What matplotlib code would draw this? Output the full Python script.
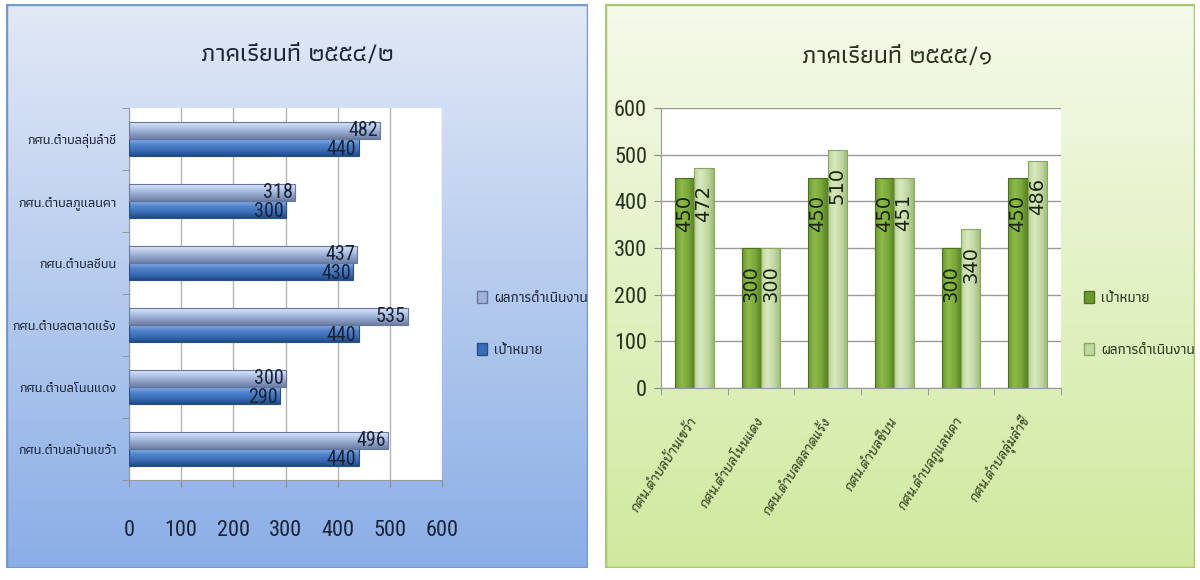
import numpy as np
import matplotlib
matplotlib.use("Agg")
import matplotlib.pyplot as plt
from matplotlib import font_manager
from matplotlib.colors import LinearSegmentedColormap
from matplotlib.patches import Rectangle, Patch
from matplotlib.transforms import ScaledTranslation

# ---- data ----
centres = ["กศน.ตำบลบ้านเขว้า", "กศน.ตำบลโนนแดง", "กศน.ตำบลตลาดแร้ง",
           "กศน.ตำบลชีบน", "กศน.ตำบลภูแลนคา", "กศน.ตำบลลุ่มลำชี"]
target_label = "เป้าหมาย"
result_label = "ผลการดำเนินงาน"

term1_title = "ภาคเรียนที่ ๒๕๕๔/๒"
term1_target = [440, 290, 440, 430, 300, 440]
term1_result = [496, 300, 535, 437, 318, 482]

term2_title = "ภาคเรียนที่ ๒๕๕๕/๑"
term2_target = [450, 300, 450, 450, 300, 450]
term2_result = [472, 300, 510, 451, 340, 486]

value_ticks = [0, 100, 200, 300, 400, 500, 600]

FONT = ["Athiti", "DejaVu Sans"]
plt.rcParams["font.family"] = FONT
plt.rcParams["font.weight"] = 500
TXT1 = "#1a2436"
TXT2 = "#27321c"


def narrow_font():
    names = {f.name for f in font_manager.fontManager.ttflist}
    for n in ["Liberation Sans Narrow", "Roboto Condensed", "Open Sans Condensed",
              "Arial Narrow", "DejaVu Sans Condensed"]:
        if n in names:
            return dict(family=[n, "DejaVu Sans"], weight="normal")
    for f in font_manager.fontManager.ttflist:
        if f.name == "DejaVu Sans" and f.stretch in ("condensed", "semi-condensed"):
            return dict(family=["DejaVu Sans"], stretch="condensed", weight="normal")
    return dict(family=FONT)


NUM = narrow_font()


def panel_background(fig, rect, top, bottom, edge):
    bg = fig.add_axes(rect, zorder=0)
    cmap = LinearSegmentedColormap.from_list("bg", [bottom, top])
    grad = np.linspace(0, 1, 256).reshape(-1, 1)
    bg.imshow(grad, aspect="auto", cmap=cmap, origin="lower", extent=[0, 1, 0, 1])
    bg.add_patch(Rectangle((0, 0), 1, 1, fill=False, edgecolor=edge, lw=2.5,
                           transform=bg.transAxes))
    bg.set_axis_off()


def shade_bars(ax, bars, colours, horizontal):
    # glossy look: a gradient image clipped to each bar
    cmap = LinearSegmentedColormap.from_list("bar", colours)
    grad = np.linspace(0, 1, 64)
    img = grad.reshape(-1, 1) if horizontal else grad.reshape(1, -1)
    for b in bars:
        x0, y0 = b.get_x(), b.get_y()
        im = ax.imshow(img, cmap=cmap, aspect="auto", origin="lower",
                       extent=[x0, x0 + b.get_width(), y0, y0 + b.get_height()],
                       zorder=3, interpolation="bilinear")
        im.set_clip_path(b)


fig = plt.figure(figsize=(12, 5.8), dpi=100)

panel_background(fig, [6 / 1200, 12 / 580, 582 / 1200, 564 / 580],
                 "#e2e9f6", "#8aaee6", "#7899cc")
panel_background(fig, [605 / 1200, 12 / 580, 590 / 1200, 564 / 580],
                 "#f5faea", "#d0e99e", "#a8c873")

# ---- left: horizontal bars ----
ax1 = fig.add_axes([129 / 1200, 100 / 580, 313 / 1200, 372 / 580], zorder=2)
y = np.arange(len(centres))
h = 0.27
b_t = ax1.barh(y - h / 2, term1_target, height=h, color="none",
               edgecolor="#284f88", lw=0.8, zorder=4)
b_r = ax1.barh(y + h / 2, term1_result, height=h, color="none",
               edgecolor="#66769c", lw=0.8, zorder=4)
shade_bars(ax1, b_t, ["#1f4a86", "#3a6cb6", "#4f82c8", "#86aee6"], True)
shade_bars(ax1, b_r, ["#6e7ea4", "#8fa0c6", "#b3c5e8", "#dce6f7"], True)
for yy, v in zip(y, term1_target):
    ax1.text(v - 4, yy - h / 2 - 0.03, str(v), ha="right", va="center",
             fontsize=14.5, color=TXT1, zorder=5, **NUM)
for yy, v in zip(y, term1_result):
    ax1.text(v - 4, yy + h / 2 + 0.01, str(v), ha="right", va="center",
             fontsize=14.5, color=TXT1, zorder=5, **NUM)
ax1.set_xlim(0, 600)
ax1.set_ylim(-0.5, len(centres) - 0.5)
ax1.set_xticks(value_ticks)
ax1.set_xticklabels([str(t) for t in value_ticks], fontsize=16, color=TXT1, **NUM)
ax1.set_yticks(y)
ax1.set_yticklabels(centres, fontsize=9.8, color=TXT1)
ax1.set_yticks(np.arange(-0.5, len(centres), 1), minor=True)
ax1.tick_params(axis="y", which="major", length=0, pad=9)
ax1.tick_params(axis="y", which="minor", length=5, color="#8c8c8c")
ax1.tick_params(axis="x", length=5, color="#8c8c8c", pad=24)
ax1.grid(axis="x", color="#b4b4b4", lw=1, zorder=0)
ax1.set_facecolor("white")
for s in ["top", "right"]:
    ax1.spines[s].set_visible(False)
ax1.spines["left"].set_color("#9a9a9a")
ax1.spines["bottom"].set_color("#9a9a9a")
fig.text(297 / 1200, 1 - 55 / 580, term1_title, ha="center", va="center",
         fontsize=18, color=TXT1, zorder=3)
ax1.legend([Patch(facecolor="#9fb2d8", edgecolor="#66769c"),
            Patch(facecolor="#3a6cb6", edgecolor="#284f88")],
           [result_label, target_label], loc="center left",
           bbox_to_anchor=(477 / 1200, 1 - 324 / 580),
           bbox_transform=fig.transFigure, frameon=False, fontsize=10.5,
           borderpad=0, borderaxespad=0,
           handlelength=0.7, handleheight=0.9, handletextpad=0.45,
           labelspacing=2.6, labelcolor=TXT1)

# ---- right: vertical bars ----
ax2 = fig.add_axes([661 / 1200, 192 / 580, 400 / 1200, 280 / 580], zorder=2)
x = np.arange(len(centres))
w = 0.29
c_t = ax2.bar(x - w / 2, term2_target, width=w, color="none",
              edgecolor="#4d7020", lw=0.8, zorder=4)
c_r = ax2.bar(x + w / 2, term2_result, width=w, color="none",
              edgecolor="#8aa762", lw=0.8, zorder=4)
shade_bars(ax2, c_t, ["#6b9a2e", "#8dbc48", "#7aa83a", "#557f22"], False)
shade_bars(ax2, c_r, ["#bcd59a", "#d8e9c0", "#c2d8a2", "#9db878"], False)
for xx, v in zip(x, term2_target):
    ax2.annotate(str(v), (xx - w / 2, v), xytext=(0, -12),
                 textcoords="offset points", ha="center", va="top", rotation=90,
                 fontsize=14, color="#1a2410", family="DejaVu Sans",
                 weight="normal", zorder=5)
for xx, v in zip(x, term2_result):
    ax2.annotate(str(v), (xx + w / 2, v), xytext=(0, -12),
                 textcoords="offset points", ha="center", va="top", rotation=90,
                 fontsize=14, color="#1a2410", family="DejaVu Sans",
                 weight="normal", zorder=5)
ax2.set_ylim(0, 600)
ax2.set_xlim(-0.5, len(centres) - 0.5)
ax2.set_yticks(value_ticks)
ax2.set_yticklabels([str(t) for t in value_ticks], fontsize=16, color=TXT2, **NUM)
ax2.set_xticks(x)
ax2.set_xticklabels(centres, rotation=57, ha="right", va="center",
                    rotation_mode="anchor", fontsize=9.5, color="#3b4a26",
                    family=["Bai Jamjuree", "Athiti", "DejaVu Sans"], style="italic")
for lab in ax2.get_xticklabels():
    lab.set_transform(lab.get_transform() +
                      ScaledTranslation(6 / 100, 0, fig.dpi_scale_trans))
ax2.set_xticks(np.arange(-0.5, len(centres), 1), minor=True)
ax2.tick_params(axis="x", which="major", length=0, pad=22)
ax2.tick_params(axis="x", which="minor", length=5, color="#8c8c8c")
ax2.tick_params(axis="y", length=5, color="#8c8c8c", pad=5)
ax2.grid(axis="y", color="#9a9a9a", lw=1, zorder=0)
ax2.set_facecolor("white")
for s in ["top", "right"]:
    ax2.spines[s].set_visible(False)
ax2.spines["left"].set_color("#9a9a9a")
ax2.spines["bottom"].set_color("#9a9a9a")
fig.text(897 / 1200, 1 - 57 / 580, term2_title, ha="center", va="center",
         fontsize=18, color=TXT2, zorder=3)
ax2.legend([Patch(facecolor="#6b9a2e", edgecolor="#4d7020"),
            Patch(facecolor="#c2d8a2", edgecolor="#8aa762")],
           [target_label, result_label], loc="center left",
           bbox_to_anchor=(1084 / 1200, 1 - 324 / 580),
           bbox_transform=fig.transFigure, frameon=False, fontsize=10.5,
           borderpad=0, borderaxespad=0,
           handlelength=0.7, handleheight=0.9, handletextpad=0.45,
           labelspacing=2.6, labelcolor=TXT2)

fig.savefig("out.png", dpi=100)
